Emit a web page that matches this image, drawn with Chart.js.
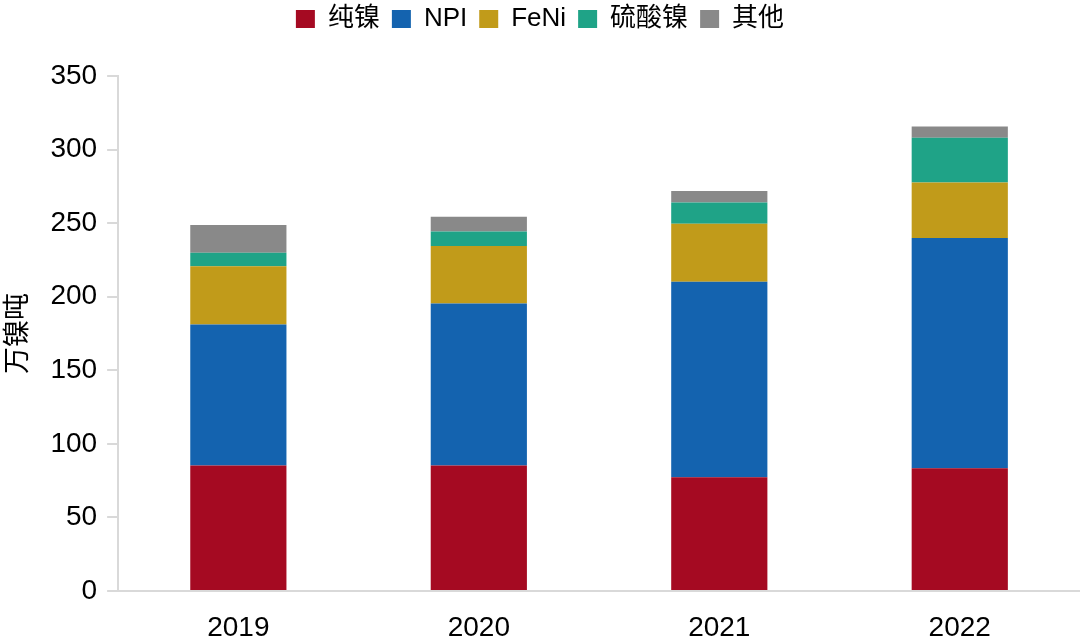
<!DOCTYPE html>
<html>
<head>
<meta charset="utf-8">
<script src="https://cdn.jsdelivr.net/npm/chart.js@4/dist/chart.umd.min.js"></script>
<style>
  html, body { margin: 0; padding: 0; background: #fff; }
</style>
</head>
<body>
<canvas id="chart" width="1080" height="642"></canvas>
<script>
// 镍供给结构（万镍吨）
var years = ["2019", "2020", "2021", "2022"];
var pureNi = [85.3, 85.3, 77.3, 83.4];
var npi = [95.8, 110.1, 132.8, 156.5];
var feni = [39.6, 39.1, 39.5, 37.7];
var niSulfate = [9.1, 9.9, 14.5, 30.4];
var others = [19.0, 10.0, 7.7, 7.6];

var yTicks = [0, 50, 100, 150, 200, 250, 300, 350];

var numFont = "'Liberation Sans', Arial, 'Noto Sans CJK SC', sans-serif";
var axisColor = '#d9d9d9';

function bar(label, data, color) {
    return {
        label: label,
        data: data,
        backgroundColor: color,
        borderWidth: 0,
        barPercentage: 0.4,
        categoryPercentage: 1.0
    };
}

// 加大图例下方留白
var legendGap = {
    id: 'legendGap',
    beforeInit: function (chart) {
        var fit = chart.legend.fit;
        chart.legend.fit = function () {
            fit.bind(chart.legend)();
            this.height += 34;
        };
    }
};

var ctx = document.getElementById("chart");

var chart = new Chart(ctx, {
    type: 'bar',
    data: {
        labels: years,
        datasets: [
            bar("纯镍", pureNi, '#A50A22'),
            bar("NPI", npi, '#1463AF'),
            bar("FeNi", feni, '#C19B1A'),
            bar("硫酸镍", niSulfate, '#1FA387'),
            bar("其他", others, '#898989')
        ]
    },
    plugins: [legendGap],
    options: {
        responsive: false,
        animation: false,
        layout: { padding: { left: 0, right: 0, top: -6, bottom: 0 } },
        plugins: {
            tooltip: { enabled: false },
            legend: {
                position: 'top',
                labels: {
                    boxWidth: 19,
                    boxHeight: 18,
                    padding: 12,
                    color: '#000',
                    font: { family: numFont, size: 26 }
                }
            }
        },
        scales: {
            x: {
                stacked: true,
                grid: { display: false, drawTicks: false },
                border: { display: true, color: axisColor, width: 2 },
                ticks: {
                    color: '#000',
                    padding: 20,
                    font: { family: numFont, size: 28 }
                },
                afterFit: function (scale) {
                    scale.height = 51;
                }
            },
            y: {
                stacked: true,
                min: 0,
                max: 350,
                afterBuildTicks: function (axis) {
                    axis.ticks = yTicks.map(function (v) { return { value: v }; });
                },
                grid: {
                    drawOnChartArea: false,
                    drawTicks: true,
                    tickLength: 11,
                    color: axisColor,
                    lineWidth: 2
                },
                border: { display: true, color: axisColor, width: 2 },
                ticks: {
                    color: '#000',
                    padding: 10,
                    font: { family: numFont, size: 28 }
                },
                title: {
                    display: true,
                    text: "万镍吨",
                    color: '#000',
                    padding: { top: 0, bottom: 8 },
                    font: { family: "'Noto Sans CJK SC', sans-serif", size: 27 }
                }
            }
        }
    }
});
</script>
</body>
</html>
